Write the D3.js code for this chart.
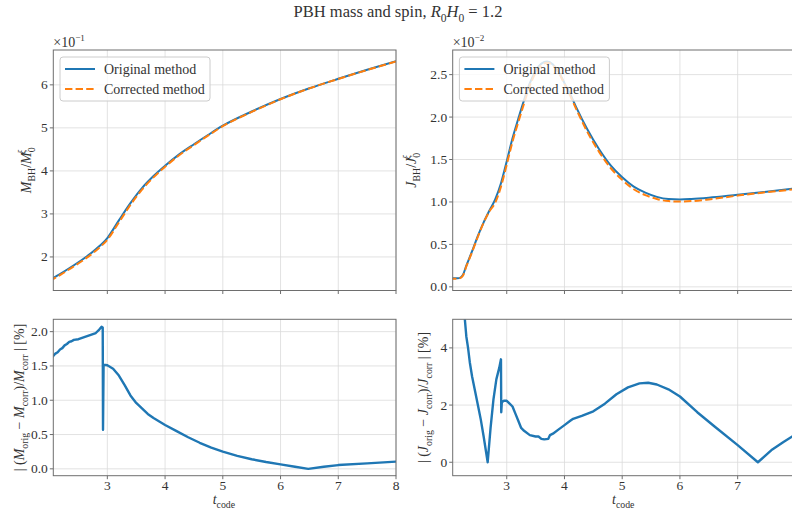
<!doctype html>
<html lang="en">
<head>
  <meta charset="utf-8">
  <title>PBH mass and spin</title>
  <style>
    body { margin: 0; background: #fff; }
    svg { display: block; font-family: "Liberation Serif", "DejaVu Serif", serif; }
    .grid line { stroke: #dadada; stroke-width: 0.8; }
    .spine { fill: none; stroke: #6e6e6e; stroke-width: 1; }
    .tick-lab { fill: #333; font-size: 13.5px; }
    .lab { fill: #333; font-size: 14px; }
  </style>
</head>
<body>
  <div id="chart"></div>
  <script src="https://d3js.org/d3.v7.min.js"></script>
  <script>
    // values
    const xTicks = [3, 4, 5, 6, 7, 8];

    // mass, in units of 1e-1
    const tMass = [2.0, 2.06, 2.2, 2.4, 2.6, 2.8, 3.0, 3.2, 3.4, 3.6, 3.8, 4.0, 4.25, 4.5, 4.75, 5.0, 5.5, 6.0, 6.5, 7.0, 7.5, 8.0];
    const massOrig = [1.46, 1.51, 1.62, 1.79, 1.97, 2.18, 2.44, 2.85, 3.25, 3.6, 3.88, 4.12, 4.39, 4.62, 4.84, 5.05, 5.38, 5.67, 5.92, 6.14, 6.35, 6.55];
    const massCorr = [1.435, 1.485, 1.595, 1.765, 1.94, 2.145, 2.40, 2.80, 3.21, 3.565, 3.85, 4.095, 4.37, 4.60, 4.825, 5.04, 5.37, 5.665, 5.918, 6.137, 6.345, 6.543];
    const massTicks = [2, 3, 4, 5, 6];

    // spin, in units of 1e-2
    const tSpin = [2.0, 2.06, 2.15, 2.2, 2.24, 2.3, 2.4, 2.5, 2.6, 2.7, 2.8, 2.9, 3.0, 3.1, 3.2, 3.3, 3.4, 3.5, 3.6, 3.7, 3.8, 3.9, 4.0, 4.1, 4.2, 4.4, 4.6, 4.8, 5.0, 5.2, 5.4, 5.6, 5.8, 6.0, 6.2, 6.5, 7.0, 7.5, 8.0];
    const spinOrig = [0.10, 0.10, 0.10, 0.11, 0.14, 0.25, 0.42, 0.60, 0.76, 0.90, 1.03, 1.22, 1.48, 1.75, 1.98, 2.20, 2.40, 2.54, 2.63, 2.655, 2.62, 2.53, 2.40, 2.27, 2.12, 1.85, 1.62, 1.43, 1.29, 1.18, 1.11, 1.06, 1.035, 1.03, 1.035, 1.05, 1.085, 1.12, 1.16];
    const spinCorr = [0.095, 0.095, 0.095, 0.105, 0.13, 0.24, 0.41, 0.59, 0.755, 0.89, 0.99, 1.18, 1.44, 1.71, 1.94, 2.16, 2.37, 2.52, 2.61, 2.64, 2.61, 2.52, 2.39, 2.25, 2.10, 1.82, 1.59, 1.40, 1.26, 1.15, 1.08, 1.035, 1.01, 1.005, 1.01, 1.03, 1.075, 1.115, 1.15];
    const spinTicks = [0, 0.5, 1.0, 1.5, 2.0, 2.5];

    // relative differences, percent
    const tMassDiff = [2.0, 2.06, 2.1, 2.14, 2.18, 2.22, 2.26, 2.3, 2.34, 2.38, 2.42, 2.5, 2.6, 2.7, 2.8, 2.86, 2.9, 2.92, 2.925, 2.935, 3.0, 3.1, 3.2, 3.3, 3.4, 3.5, 3.6, 3.7, 3.8, 3.9, 4.0, 4.2, 4.4, 4.6, 4.8, 5.0, 5.25, 5.5, 5.75, 6.0, 6.25, 6.48, 6.75, 7.0, 7.5, 8.0];
    const massDiff = [1.6, 1.64, 1.68, 1.70, 1.74, 1.76, 1.80, 1.82, 1.85, 1.86, 1.88, 1.89, 1.92, 1.95, 1.98, 2.03, 2.07, 2.06, 0.57, 1.52, 1.51, 1.46, 1.36, 1.22, 1.07, 0.96, 0.88, 0.80, 0.74, 0.69, 0.64, 0.55, 0.46, 0.38, 0.31, 0.25, 0.19, 0.14, 0.10, 0.065, 0.03, 0.0, 0.03, 0.055, 0.08, 0.105];
    const massDiffTicks = [0, 0.5, 1.0, 1.5, 2.0];

    const tSpinDiff = [2.2, 2.27, 2.3, 2.33, 2.36, 2.4, 2.45, 2.5, 2.55, 2.6, 2.67, 2.72, 2.77, 2.82, 2.87, 2.9, 2.905, 2.915, 2.95, 3.0, 3.05, 3.1, 3.15, 3.2, 3.25, 3.3, 3.4, 3.5, 3.55, 3.6, 3.65, 3.72, 3.75, 3.8, 3.9, 4.0, 4.1, 4.15, 4.3, 4.5, 4.7, 4.9, 5.1, 5.3, 5.45, 5.6, 5.8, 6.0, 6.3, 6.6, 7.0, 7.35, 7.6, 7.8, 8.0];
    const spinDiff = [7.0, 5.1, 4.4, 4.0, 3.5, 3.0, 2.5, 2.0, 1.5, 0.9, 0.0, 1.2, 2.2, 2.9, 3.3, 3.6, 1.75, 2.1, 2.15, 2.15, 2.05, 1.95, 1.7, 1.45, 1.2, 1.1, 0.95, 0.9, 0.9, 0.82, 0.8, 0.82, 0.95, 1.0, 1.15, 1.3, 1.45, 1.52, 1.62, 1.78, 2.05, 2.38, 2.62, 2.76, 2.78, 2.72, 2.55, 2.3, 1.75, 1.25, 0.6, 0.0, 0.45, 0.72, 0.97];
    const spinDiffTicks = [0, 2, 4];

    const blue = '#1f77b4';
    const orange = '#ff7f0e';
    const W = 792, H = 511;

    const svg = d3.select('#chart').append('svg')
      .attr('width', W)
      .attr('height', H);

    // write text with italic / sub / superscript pieces
    function rich(text, parts, fs) {
      let shift = 0;
      parts.forEach(p => {
        const ts = text.append('tspan').text(p.t);
        const target = p.sub ? fs * 0.3 : p.sup ? -fs * 0.45 : 0;
        ts.attr('dy', target - shift);
        shift = target;
        if (p.sub || p.sup) ts.attr('font-size', fs * 0.7);
        if (p.it) ts.attr('font-style', 'italic');
        if (p.dx) ts.attr('dx', p.dx);
      });
      return text;
    }

    let clipId = 0;

    function panel(opt) {
      const x = d3.scaleLinear().domain([2.064, 8]).range([opt.left, opt.left + 342.7]);
      const y = d3.scaleLinear().domain(opt.yDomain).range([opt.bottom, opt.top]);
      const g = svg.append('g');

      // grid
      const grid = g.append('g').attr('class', 'grid');
      grid.selectAll('.gx').data(xTicks).join('line')
        .attr('x1', d => x(d)).attr('x2', d => x(d))
        .attr('y1', opt.top).attr('y2', opt.bottom);
      grid.selectAll('.gy').data(opt.yTicks).join('line')
        .attr('x1', x.range()[0]).attr('x2', x.range()[1])
        .attr('y1', d => y(d)).attr('y2', d => y(d));

      // lines
      const id = 'clip' + (clipId++);
      svg.append('clipPath').attr('id', id).append('rect')
        .attr('x', x.range()[0]).attr('y', opt.top)
        .attr('width', 342.7).attr('height', opt.bottom - opt.top);
      const lg = g.append('g').attr('clip-path', `url(#${id})`);
      opt.series.forEach(s => {
        const line = d3.line().curve(opt.curve || d3.curveLinear)
          .x((d, i) => x(s.t[i])).y(d => y(d));
        lg.append('path')
          .attr('d', line(s.v))
          .attr('fill', 'none')
          .attr('stroke', s.color)
          .attr('stroke-width', s.width || 2)
          .attr('stroke-linejoin', 'round')
          .attr('stroke-dasharray', s.dash || null);
      });

      // legend
      if (opt.legend) {
        const lx = x.range()[0] + 6.7, ly = opt.top + 7;
        g.append('rect')
          .attr('x', lx).attr('y', ly).attr('width', 150).attr('height', 44).attr('rx', 3)
          .attr('fill', 'white').attr('fill-opacity', 0.8).attr('stroke', '#cccccc');
        opt.series.forEach((s, i) => {
          g.append('line')
            .attr('x1', lx + 5).attr('x2', lx + 35)
            .attr('y1', ly + 12 + i * 20).attr('y2', ly + 12 + i * 20)
            .attr('stroke', s.color).attr('stroke-width', 2)
            .attr('stroke-dasharray', s.dash || null);
          g.append('text').attr('class', 'lab')
            .attr('x', lx + 44).attr('y', ly + 16.5 + i * 20)
            .text(s.name);
        });
      }

      // ticks
      g.selectAll('.tx').data(xTicks).join('line')
        .attr('x1', d => x(d)).attr('x2', d => x(d))
        .attr('y1', opt.bottom).attr('y2', opt.bottom + 3.5)
        .attr('stroke', '#6e6e6e');
      g.selectAll('.ty').data(opt.yTicks).join('line')
        .attr('x1', x.range()[0] - 3.5).attr('x2', x.range()[0])
        .attr('y1', d => y(d)).attr('y2', d => y(d))
        .attr('stroke', '#6e6e6e');
      g.selectAll('.ly').data(opt.yTicks).join('text')
        .attr('class', 'tick-lab')
        .attr('x', x.range()[0] - 5.5)
        .attr('y', d => y(d) + 4.5)
        .attr('text-anchor', 'end')
        .text(opt.yFormat);
      if (opt.xLabels) {
        g.selectAll('.lx').data(xTicks).join('text')
          .attr('class', 'tick-lab')
          .attr('x', d => x(d))
          .attr('y', opt.bottom + 14)
          .attr('text-anchor', 'middle')
          .text(d => d);
        rich(g.append('text').attr('class', 'lab')
          .attr('x', (x.range()[0] + x.range()[1]) / 2 - 12).attr('y', opt.bottom + 28),
          [{ t: 't', it: true }, { t: 'code', sub: true }], 14);
      }

      // spines
      g.append('rect').attr('class', 'spine')
        .attr('x', x.range()[0]).attr('y', opt.top)
        .attr('width', 342.7).attr('height', opt.bottom - opt.top);

      // y label
      rich(g.append('text').attr('class', 'lab')
        .attr('text-anchor', 'middle')
        .attr('transform', `translate(${opt.yLabX},${(opt.top + opt.bottom) / 2}) rotate(-90)`),
        opt.yLabel, 14);

      // offset text
      if (opt.offset) {
        rich(g.append('text').attr('class', 'lab')
          .attr('x', x.range()[0]).attr('y', opt.top - 3),
          [{ t: '×10' }, { t: opt.offset, sup: true }], 13);
      }
    }

    // title
    rich(svg.append('text').attr('class', 'lab')
      .attr('x', 398).attr('y', 17).attr('text-anchor', 'middle').style('font-size', '16.5px'),
      [{ t: 'PBH mass and spin, ' }, { t: 'R', it: true }, { t: '0', sub: true },
       { t: 'H', it: true }, { t: '0', sub: true }, { t: ' = 1.2' }], 16.5);

    const dash = '7.4,3.2';

    panel({
      left: 53.3, top: 50, bottom: 290.5, curve: d3.curveMonotoneX,
      yDomain: [1.22, 6.81], yTicks: massTicks, yFormat: d3.format('d'),
      series: [
        { name: 'Original method', t: tMass, v: massOrig, color: blue },
        { name: 'Corrected method', t: tMass, v: massCorr, color: orange, dash: dash }
      ],
      legend: true, offset: '−1', yLabX: 31,
      yLabel: [{ t: 'M', it: true }, { t: 'BH', sub: true }, { t: '/' }, { t: 'M', it: true },
               { t: '0', sub: true }, { t: 'ξ', sup: true, it: true, dx: -6.5 }]
    });

    panel({
      left: 452.7, top: 50, bottom: 290.5, curve: d3.curveMonotoneX,
      yDomain: [-0.043, 2.79], yTicks: spinTicks, yFormat: d3.format('.1f'),
      series: [
        { name: 'Original method', t: tSpin, v: spinOrig, color: blue },
        { name: 'Corrected method', t: tSpin, v: spinCorr, color: orange, dash: dash }
      ],
      legend: true, offset: '−2', yLabX: 416,
      yLabel: [{ t: 'J', it: true }, { t: 'BH', sub: true }, { t: '/' }, { t: 'J', it: true },
               { t: '0', sub: true }, { t: 'ξ', sup: true, it: true, dx: -6.5 }]
    });

    panel({
      left: 53.3, top: 319.3, bottom: 475.7,
      yDomain: [-0.10, 2.18], yTicks: massDiffTicks, yFormat: d3.format('.1f'),
      series: [{ t: tMassDiff, v: massDiff, color: blue, width: 2.4 }],
      xLabels: true, yLabX: 24,
      yLabel: [{ t: '| (' }, { t: 'M', it: true }, { t: 'orig', sub: true }, { t: ' − ' },
               { t: 'M', it: true }, { t: 'corr', sub: true }, { t: ')/' },
               { t: 'M', it: true }, { t: 'corr', sub: true }, { t: ' | [%]' }]
    });

    panel({
      left: 452.7, top: 319.3, bottom: 475.7,
      yDomain: [-0.47, 5.0], yTicks: spinDiffTicks, yFormat: d3.format('d'),
      series: [{ t: tSpinDiff, v: spinDiff, color: blue, width: 2.4 }],
      xLabels: true, yLabX: 428,
      yLabel: [{ t: '| (' }, { t: 'J', it: true }, { t: 'orig', sub: true }, { t: ' − ' },
               { t: 'J', it: true }, { t: 'corr', sub: true }, { t: ')/' },
               { t: 'J', it: true }, { t: 'corr', sub: true }, { t: ' | [%]' }]
    });
  </script>
</body>
</html>
